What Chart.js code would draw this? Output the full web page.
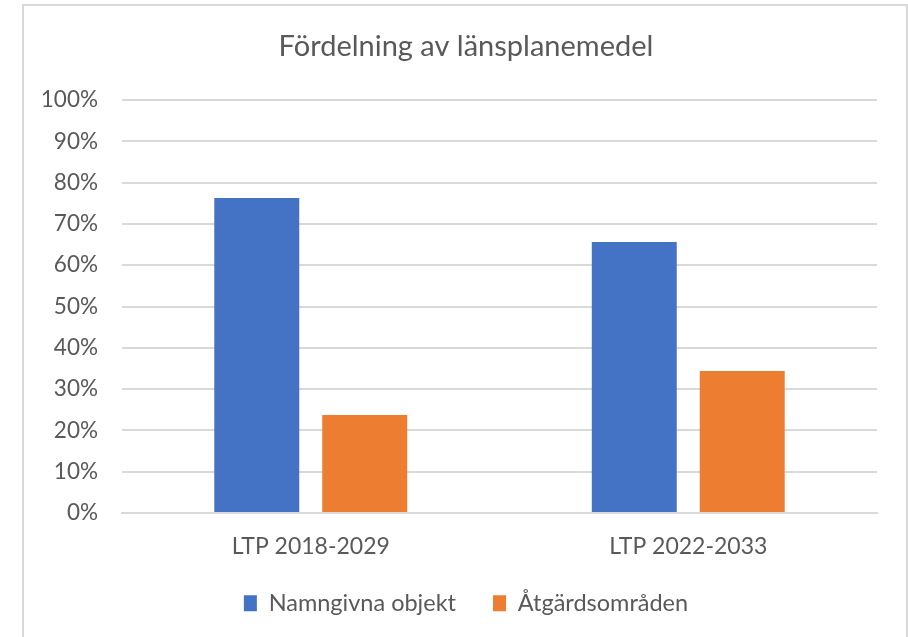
<!DOCTYPE html>
<html>
<head>
<meta charset="utf-8">
<script src="https://cdn.jsdelivr.net/npm/chart.js@4"></script>
<style>
  html, body { margin: 0; padding: 0; background: #fff; }
  #wrap { position: relative; width: 908px; height: 637px; overflow: hidden; }
  #frame { position: absolute; left: 22px; top: 4px; width: 882px; height: 700px; border: 2px solid #d9d9d9; }
  #myChart { position: absolute; left: 0; top: 0; }
</style>
</head>
<body>
<div id="wrap">
  <div id="frame"></div>
  <canvas id="myChart" width="908" height="637"></canvas>
</div>
<script>
// Data
const categories = ['LTP 2018-2029', 'LTP 2022-2033'];
const namngivna = [76.3, 65.6];
const atgardsomraden = [23.7, 34.4];
const yTicks = [0, 10, 20, 30, 40, 50, 60, 70, 80, 90, 100];

const textColor = '#595959';
Chart.defaults.font.family = 'Lato, "Open Sans", sans-serif';
Chart.defaults.color = textColor;

const ctx = document.getElementById('myChart').getContext('2d');
const myChart = new Chart(ctx, {
	type: 'bar',
	data: {
		labels: categories,
		datasets: [{
			label: 'Namngivna objekt',
			data: namngivna,
			backgroundColor: '#4472C4'
		}, {
			label: 'Åtgärdsområden',
			data: atgardsomraden,
			backgroundColor: '#ED7D31'
		}]
	},
	options: {
		responsive: false,
		animation: false,
		categoryPercentage: 0.572,
		barPercentage: 0.787,
		layout: {
			padding: { top: 0, left: 38, right: 14, bottom: 12 }
		},
		plugins: {
			title: {
				display: true,
				text: 'Fördelning av länsplanemedel',
				color: textColor,
				font: { size: 29, weight: 'normal' },
				padding: { top: 29.6, bottom: 35.6 }
			},
			legend: {
				position: 'bottom',
				labels: {
					boxWidth: 13,
					boxHeight: 16,
					padding: 37,
					color: textColor,
					font: { size: 23.5 }
				}
			},
			tooltip: { enabled: false }
		},
		scales: {
			x: {
				grid: { display: false, drawTicks: false },
				border: { color: '#d9d9d9', width: 2 },
				ticks: { padding: 20, font: { size: 23 }, color: textColor },
				afterFit: function (scale) { scale.height = 41.5; }
			},
			y: {
				min: 0,
				max: 100,
				afterBuildTicks: function (scale) {
					scale.ticks = yTicks.map(v => ({ value: v }));
				},
				grid: { color: '#d9d9d9', lineWidth: 2, drawTicks: false },
				border: { display: false },
				ticks: {
					padding: 24,
					font: { size: 22.5 },
					color: textColor,
					callback: v => v + '%'
				},
				afterFit: function (scale) { scale.width = 84; }
			},
			// empty spacer on the right so the plot ends where the original does
			yRight: {
				position: 'right',
				min: 0,
				max: 100,
				grid: { display: false, drawTicks: false },
				border: { display: false },
				ticks: { display: false },
				afterFit: function (scale) { scale.width = 17; }
			}
		}
	}
});
</script>
</body>
</html>
